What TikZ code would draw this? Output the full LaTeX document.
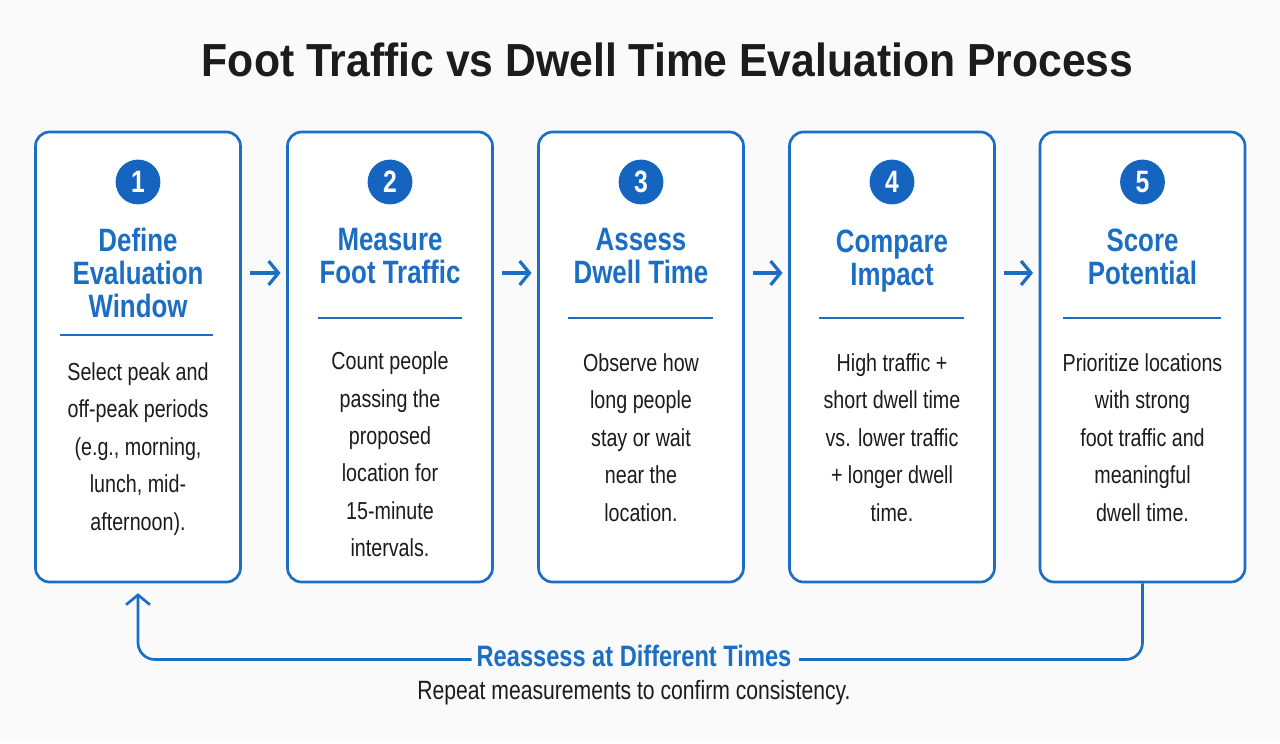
\documentclass[tikz,border=0pt]{standalone}
\usepackage{fontspec}
\setmainfont{Liberation Sans}[FakeStretch=0.8]
\newfontfamily\headfont{Liberation Sans}[FakeStretch=0.92]
\usepackage{xcolor}
\definecolor{flowblue}{RGB}{28,110,196}
\definecolor{flowdark}{RGB}{21,101,192}
\definecolor{flowtext}{RGB}{28,28,28}
\definecolor{flowbg}{RGB}{250,250,250}
\usetikzlibrary{arrows.meta,positioning}

\begin{document}
\begin{tikzpicture}[
  stepbox/.style={draw=flowblue, line width=1.9pt, fill=white, rounded corners=10pt, minimum width=5.125cm, minimum height=11.25cm},
  stepnum/.style={circle, fill=flowdark, minimum size=1.12cm, inner sep=0pt, text=white, font=\fontsize{22}{24}\selectfont\bfseries},
  stephead/.style={text=flowblue, font=\fontsize{23}{23.5}\selectfont\bfseries, align=center},
  stepbody/.style={text=flowtext, font=\fontsize{17.5}{26.6}\selectfont, align=center},
  steprule/.style={draw=flowblue, line width=1.4pt},
  flowtip/.style={-{Straight Barb[length=7pt,width=17pt]}},
  flowarrow/.style={flowtip, line width=2.3pt, flowblue, shorten <=6pt, shorten >=4pt}
]
  \fill[flowbg] (0,0) rectangle (32,18.575);
  \useasboundingbox (0,0) rectangle (32,18.575);

  \node[font=\headfont\fontsize{33}{36}\selectfont\bfseries, text=flowtext] (title) at (16.69,17.075) {Foot Traffic vs Dwell Time Evaluation Process};

  %--- Steps ---
  % Define window
  \node[stepbox] (define) at (3.45,9.65) {};
  \node[stepnum] (n1) at (3.45,14.025) {1};
  \node[stephead] (h1) at (3.45,11.75) {Define\\Evaluation\\Window};
  \draw[steprule] (1.5,10.2) -- (5.325,10.2);
  \node[stepbody] (b1) at (3.45,7.35) {Select peak and\\off-peak periods\\(e.g., morning,\\lunch, mid-\\afternoon).};

  % Measure traffic
  \node[stepbox] (measure) at (9.75,9.65) {};
  \node[stepnum] (n2) at (9.75,14.025) {2};
  \node[stephead] (h2) at (9.75,12.1625) {Measure\\Foot Traffic};
  \draw[steprule] (7.95,10.625) -- (11.55,10.625);
  \node[stepbody] (b2) at (9.75,7.2125) {Count people\\passing the\\proposed\\location for\\15-minute\\intervals.};

  % Assess dwell
  \node[stepbox] (assess) at (16.025,9.65) {};
  \node[stepnum] (n3) at (16.025,14.025) {3};
  \node[stephead] (h3) at (16.025,12.1625) {Assess\\Dwell Time};
  \draw[steprule] (14.2,10.625) -- (17.825,10.625);
  \node[stepbody] (b3) at (16.025,7.6375) {Observe how\\long people\\stay or wait\\near the\\location.};

  % Compare impact
  \node[stepbox] (compare) at (22.3,9.65) {};
  \node[stepnum] (n4) at (22.3,14.025) {4};
  \node[stephead] (h4) at (22.3,12.06) {Compare\\Impact};
  \draw[steprule] (20.475,10.625) -- (24.1,10.625);
  \node[stepbody] (b4) at (22.3,7.6375) {High traffic +\\short dwell time\\vs. lower traffic\\+ longer dwell\\time.};

  % Score potential
  \node[stepbox] (score) at (28.5625,9.65) {};
  \node[stepnum] (n5) at (28.5625,14.025) {5};
  \node[stephead] (h5) at (28.5625,12.1625) {Score\\Potential};
  \draw[steprule] (26.575,10.625) -- (30.525,10.625);
  \node[stepbody] (b5) at (28.5625,7.6375) {Prioritize locations\\with strong\\foot traffic and\\meaningful\\dwell time.};

  \draw[flowarrow] ([yshift=2.1cm]define.east) -- ([yshift=2.1cm]measure.west);
  \draw[flowarrow] ([yshift=2.1cm]measure.east) -- ([yshift=2.1cm]assess.west);
  \draw[flowarrow] ([yshift=2.1cm]assess.east) -- ([yshift=2.1cm]compare.west);
  \draw[flowarrow] ([yshift=2.1cm]compare.east) -- ([yshift=2.1cm]score.west);

  %--- Feedback loop ---
  \node[font=\fontsize{21}{24}\selectfont\bfseries, text=flowblue] (reassess) at (15.85,2.175) {Reassess at Different Times};
  \node[font=\fontsize{18.8}{22}\selectfont, text=flowtext] (repeat) at (15.85,1.25) {Repeat measurements to confirm consistency.};

  \draw[line width=1.9pt, flowblue, rounded corners=12pt] (score.south) |- ([xshift=2pt,yshift=-2.5pt]reassess.east);
  \draw[line width=1.9pt, flowblue, rounded corners=12pt, flowtip, shorten >=7pt] ([yshift=-2.5pt]reassess.west) -| (define.south);
\end{tikzpicture}
\end{document}
